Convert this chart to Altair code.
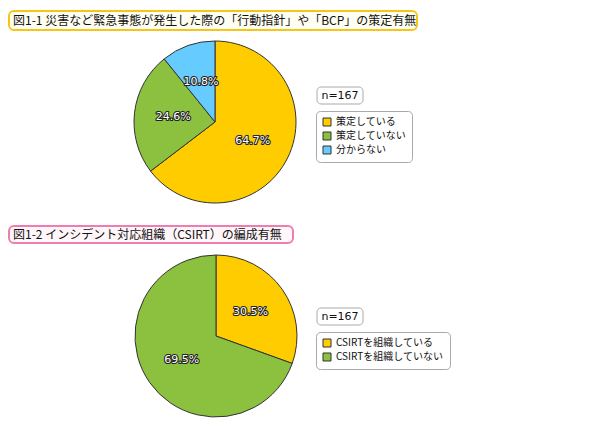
import altair as alt
import pandas as pd

# ---- data ----
title1 = "図1-1 災害など緊急事態が発生した際の「行動指針」や「BCP」の策定有無"
title2 = "図1-2 インシデント対応組織（CSIRT）の編成有無"

cats1 = ["策定している", "策定していない", "分からない"]
vals1 = [64.7, 24.6, 10.8]
cols1 = ["#FFCC00", "#8CC13F", "#66CCFF"]

cats2 = ["CSIRTを組織している", "CSIRTを組織していない"]
vals2 = [30.5, 69.5]
cols2 = ["#FFCC00", "#8CC13F"]

n_label = "n=167"

df1 = pd.DataFrame({"cat1": cats1, "value": vals1, "idx": list(range(len(cats1))),
                    "label": [f"{v:.1f}%" for v in vals1]})
df2 = pd.DataFrame({"cat2": cats2, "value": vals2, "idx": list(range(len(cats2))),
                    "label": [f"{v:.1f}%" for v in vals2]})
one = pd.DataFrame({"a": [0]})

JP = "Noto Sans CJK JP"


def box(x, x2, y, y2, fill, stroke, r=5, sw=2):
    return alt.Chart(one).mark_rect(fill=fill, stroke=stroke, strokeWidth=sw, cornerRadius=r).encode(
        x=alt.value(x), x2=alt.value(x2), y=alt.value(y), y2=alt.value(y2))


def label(txt, x, y, size, align="left", font=JP):
    return alt.Chart(one).mark_text(text=txt, align=align, baseline="middle", fontSize=size,
                                    font=font, color="#111").encode(x=alt.value(x), y=alt.value(y))


def legend(lx, ly, rowpad):
    return alt.Legend(orient="none", legendX=lx, legendY=ly, title=None,
                      symbolType="square", symbolSize=64, symbolStrokeColor="#333",
                      symbolStrokeWidth=1, symbolOpacity=1, labelFont=JP, labelFontSize=10,
                      labelColor="#111", padding=6, strokeColor="#aaa", cornerRadius=4,
                      fillColor="white", rowPadding=rowpad, labelOffset=4, labelLimit=300)


def pie(df, field, cats, cols, cx, cy, lx, ly, rowpad):
    base = alt.Chart(df).encode(
        theta=alt.Theta("value:Q", stack=True),
        order=alt.Order("idx:Q", sort="ascending"),
        x=alt.value(cx), y=alt.value(cy))
    arc = base.mark_arc(outerRadius=81, stroke="#333", strokeWidth=1).encode(
        color=alt.Color(f"{field}:N", scale=alt.Scale(domain=cats, range=cols),
                        sort=cats, legend=legend(lx, ly, rowpad)))
    outline = base.mark_text(radius=42, fontSize=11, font="DejaVu Sans", stroke="#222",
                             strokeWidth=2.2, fill="#222", strokeJoin="round").encode(text="label:N")
    txt = base.mark_text(radius=42, fontSize=11, font="DejaVu Sans", fill="white").encode(text="label:N")
    return [arc, outline, txt]


layers = [
    box(1, 409, 3, 22, "#FFFEF2", "#F5C518"),
    label(title1, 5, 13, 12),
    box(1, 285, 218, 235, "#FFF6FA", "#F07DB0"),
    label(title2, 5, 227, 12),
    box(309, 355, 79, 96, "white", "#aaa", r=4, sw=1),
    label(n_label, 332, 88, 11, align="center", font="DejaVu Sans"),
    box(309, 355, 300, 317, "white", "#aaa", r=4, sw=1),
    label(n_label, 332, 309, 11, align="center", font="DejaVu Sans"),
]
layers += pie(df1, "cat1", cats1, cols1, 207, 114, 308, 103, 2)
layers += pie(df2, "cat2", cats2, cols2, 208, 328, 308, 324, 2)

chart = alt.layer(*layers).resolve_scale(color="independent", theta="independent").properties(
    width=574, height=412, padding=0, autosize=alt.AutoSizeParams(type="none"),
    background="white"
).configure_view(strokeWidth=0)

chart.save("out.html", embed_options={"renderer": "svg", "actions": False})
